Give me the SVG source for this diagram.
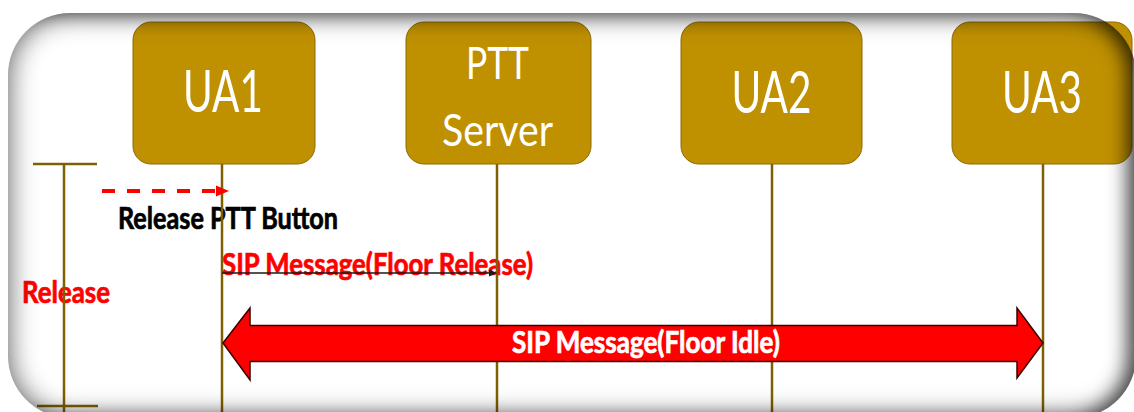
<svg xmlns="http://www.w3.org/2000/svg" width="1134" height="412" viewBox="0 0 1134 412">
  <style>
    .box { fill: #BF9000; stroke: #8C6A00; stroke-width: 1; }
    .boxText { font-family: Lato, "Liberation Sans", sans-serif; fill: #FFFFFF; text-anchor: middle; }
    .life { stroke: #7F6000; stroke-width: 2.5; fill: none; }
    .lbl { font-family: Lato, "Liberation Sans", sans-serif; font-weight: bold; font-size: 30px; stroke-width: 0.7px; }
  </style>
  <defs>
    <clipPath id="frameClip">
      <rect x="8" y="13" width="1128" height="405" rx="62" ry="62"/>
    </clipPath>
    <filter id="edgeBlur" x="-10%" y="-10%" width="120%" height="120%">
      <feGaussianBlur stdDeviation="14"/>
    </filter>
    <filter id="edgeBlurRight" x="-10%" y="-10%" width="120%" height="120%">
      <feGaussianBlur stdDeviation="9"/>
    </filter>
  </defs>

  <!-- page -->
  <rect x="0" y="0" width="1134" height="412" fill="#FFFFFF"/>

  <!-- text labels -->
  <g id="labels">
    <text class="lbl" x="118" y="229" fill="#000000" stroke="#000000" textLength="220" lengthAdjust="spacingAndGlyphs">Release PTT Button</text>
    <text class="lbl" x="222" y="275" fill="#FF0000" stroke="#FF0000" textLength="311" lengthAdjust="spacingAndGlyphs">SIP Message(Floor Release)</text>
    <text class="lbl" x="22" y="303" fill="#FF0000" stroke="#FF0000" textLength="88" lengthAdjust="spacingAndGlyphs">Release</text>
  </g>

  <!-- phase bracket -->
  <g id="bracket" class="life">
    <line x1="33" y1="164" x2="97" y2="164"/>
    <line x1="64" y1="164" x2="64" y2="412"/>
    <line x1="37" y1="406" x2="98" y2="406"/>
  </g>

  <!-- participants -->
  <g id="ua1">
    <rect class="box" x="133" y="22" width="182" height="142" rx="18"/>
    <text class="boxText" x="223" y="112" font-size="58" textLength="80" lengthAdjust="spacingAndGlyphs">UA1</text>
  </g>
  <g id="ptt-server">
    <rect class="box" x="406" y="22" width="185" height="142" rx="18"/>
    <text class="boxText" x="497.5" y="79" font-size="45" textLength="63" lengthAdjust="spacingAndGlyphs">PTT</text>
    <text class="boxText" x="497.5" y="146" font-size="45" textLength="111" lengthAdjust="spacingAndGlyphs">Server</text>
  </g>
  <g id="ua2">
    <rect class="box" x="681" y="22" width="181" height="142" rx="18"/>
    <text class="boxText" x="771.5" y="113" font-size="58" textLength="80" lengthAdjust="spacingAndGlyphs">UA2</text>
  </g>
  <g id="ua3">
    <rect class="box" x="952" y="22" width="180" height="142" rx="18"/>
    <text class="boxText" x="1042" y="113" font-size="58" textLength="80" lengthAdjust="spacingAndGlyphs">UA3</text>
  </g>

  <!-- lifelines and messages -->
  <g id="connectors">
    <line class="life" x1="222" y1="164" x2="222" y2="412"/>
    <line class="life" x1="497" y1="164" x2="497" y2="412"/>
    <line class="life" x1="772" y1="164" x2="772" y2="412"/>
    <line class="life" x1="1043" y1="164" x2="1043" y2="412"/>

    <!-- local button release -->
    <line x1="102" y1="191" x2="216" y2="191" stroke="#FF0000" stroke-width="4" stroke-dasharray="13 12"/>
    <polygon points="216,185.5 229,191 216,196.5" fill="#FF0000"/>

    <!-- floor release to server -->
    <line x1="222" y1="273" x2="492" y2="273" stroke="#1A1A1A" stroke-width="1.5"/>
    <polygon points="489,269.5 497,273 489,276.5" fill="#1A1A1A"/>

    <!-- floor idle broadcast -->
    <polygon points="223,343 250,308 250,325.5 1017,325.5 1017,308 1043,343 1017,378 1017,361.5 250,361.5 250,380"
             fill="#FF0000" stroke="#3A0000" stroke-width="1.5" stroke-linejoin="miter"/>
    <text class="lbl" x="512" y="353" fill="#FFFFFF" stroke="#FFFFFF" textLength="268" lengthAdjust="spacingAndGlyphs">SIP Message(Floor Idle)</text>
  </g>

  <!-- bevelled frame shading -->
  <g clip-path="url(#frameClip)">
    <path filter="url(#edgeBlur)" fill="#000000" fill-opacity="0.65" fill-rule="evenodd"
          d="M-200,-200 H1400 V700 H-200 Z M70,13 H1074 A62,62 0 0 1 1136,75 V356 A62,62 0 0 1 1074,418 H70 A62,62 0 0 1 8,356 V75 A62,62 0 0 1 70,13 Z"/>
    <path filter="url(#edgeBlurRight)" fill="#000000" fill-opacity="0.5" fill-rule="evenodd"
          d="M-200,-200 H1400 V700 H-200 Z M40,13 H1066 A62,62 0 0 1 1128,75 V356 A62,62 0 0 1 1066,418 H40 A62,62 0 0 1 -22,356 V75 A62,62 0 0 1 40,13 Z"/>
  </g>
</svg>
